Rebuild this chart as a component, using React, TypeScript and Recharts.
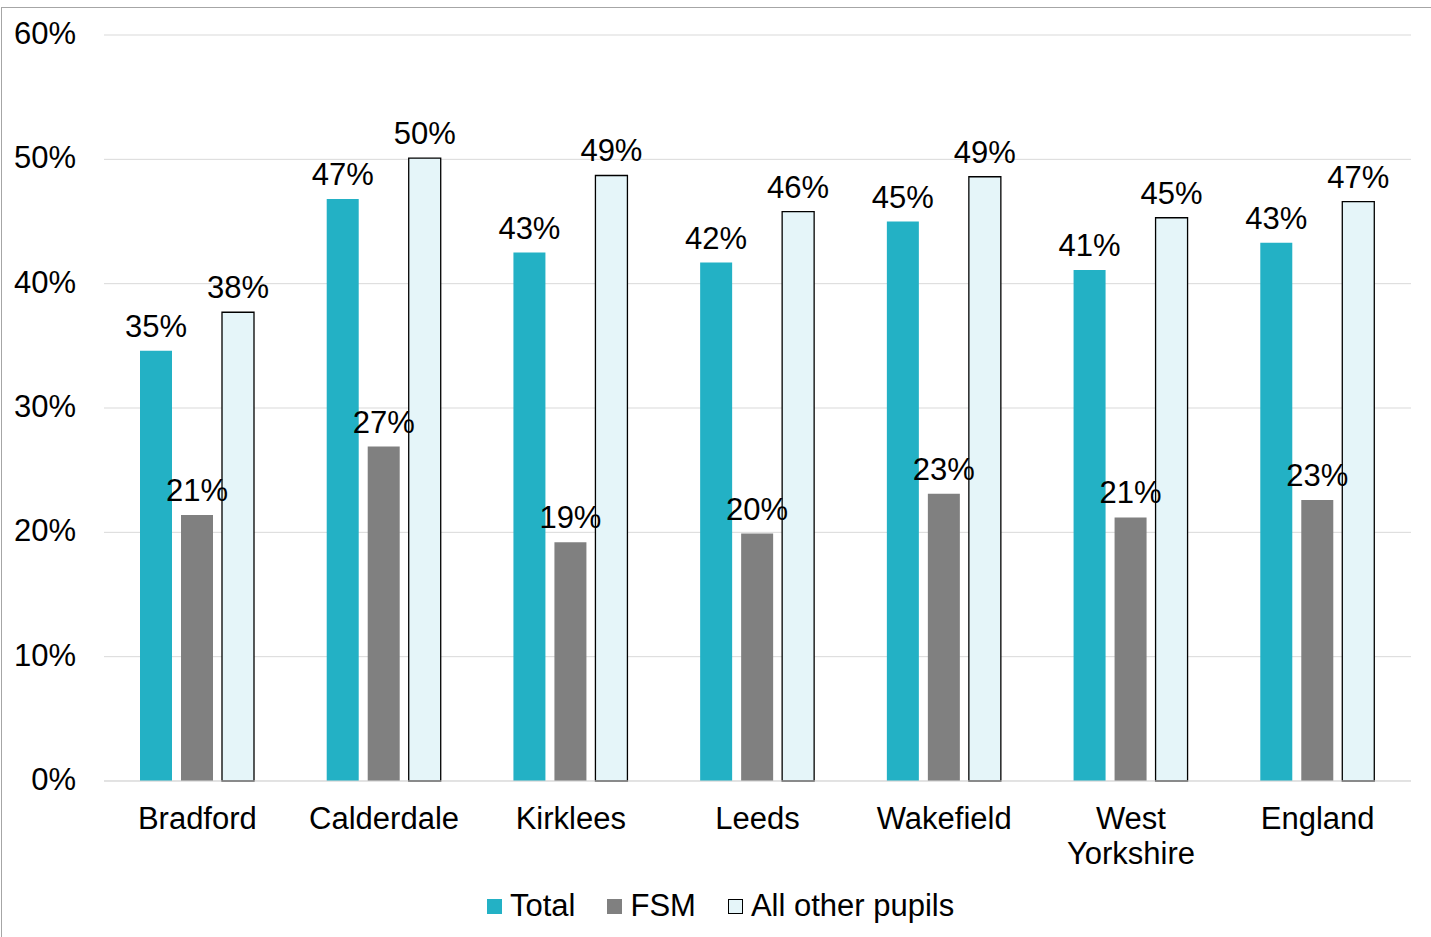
import React from 'react';
import { BarChart, Bar, XAxis, YAxis, CartesianGrid, LabelList } from 'recharts';

const areas = ['Bradford', 'Calderdale', 'Kirklees', 'Leeds', 'Wakefield', 'West Yorkshire', 'England'];
const totalPct = [34.6, 46.8, 42.5, 41.7, 45.0, 41.1, 43.3];
const fsmPct = [21.4, 26.9, 19.2, 19.9, 23.1, 21.2, 22.6];
const otherPct = [37.7, 50.1, 48.7, 45.8, 48.6, 45.3, 46.6];
const yTicks = [0, 10, 20, 30, 40, 50, 60];

const data = areas.map((name, i) => ({
  name,
  total: totalPct[i],
  fsm: fsmPct[i],
  other: otherPct[i],
}));

const FONT = '"Liberation Sans", Arial, sans-serif';
const FS = 31;
const TEAL = '#23b1c5';
const GREY = '#808080';
const PALE = '#e5f5f9';

const pct = (v: any) => `${Math.round(Number(v))}%`;

const AreaTick = (props: any) => {
  const { x, y, payload } = props;
  const words = String(payload.value).split(' ');
  return (
    <text x={x} y={y} textAnchor="middle" fill="#000" fontSize={FS} fontFamily={FONT}>
      {words.map((w, i) => (
        <tspan key={w} x={x} dy={i === 0 ? 40 : 35}>{w}</tspan>
      ))}
    </text>
  );
};

const legendItems = [
  { label: 'Total', fill: TEAL, stroke: 'none' },
  { label: 'FSM', fill: GREY, stroke: 'none' },
  { label: 'All other pupils', fill: PALE, stroke: '#000' },
];

export default function App() {
  return (
    <div style={{ position: 'absolute', left: 0, top: 0, width: 1431, height: 937, background: '#fff', overflow: 'hidden', fontFamily: FONT }}>
      <div style={{ position: 'absolute', left: 1, top: 7, width: 1460, height: 960, border: '1px solid #a6a6a6', boxSizing: 'border-box' }} />
      <div style={{ position: 'absolute', left: 0, top: 0 }}>
        <BarChart
          width={1431}
          height={937}
          data={data}
          margin={{ top: 35, right: 20, left: 1, bottom: 0 }}
          barSize={32}
          barGap={9}
        >
          <CartesianGrid vertical={false} stroke="#d9d9d9" />
          <XAxis
            dataKey="name"
            height={156}
            axisLine={{ stroke: '#d9d9d9' }}
            tickLine={false}
            tick={<AreaTick />}
            interval={0}
          />
          <YAxis
            width={103}
            domain={[0, 60]}
            ticks={yTicks}
            tickFormatter={(v) => `${v}%`}
            axisLine={false}
            tickLine={false}
            tickSize={0}
            tickMargin={28}
            tick={{ fill: '#000', fontSize: FS, fontFamily: FONT, dy: -2 }}
          />
          <Bar dataKey="total" fill={TEAL} isAnimationActive={false}>
            <LabelList dataKey="total" position="top" offset={14} formatter={pct} fill="#000" fontSize={FS} fontFamily={FONT} />
          </Bar>
          <Bar dataKey="fsm" fill={GREY} isAnimationActive={false}>
            <LabelList dataKey="fsm" position="top" offset={14} formatter={pct} fill="#000" fontSize={FS} fontFamily={FONT} />
          </Bar>
          <Bar dataKey="other" fill={PALE} stroke="#000" strokeWidth={1.3} isAnimationActive={false}>
            <LabelList dataKey="other" position="top" offset={14} formatter={pct} fill="#000" fontSize={FS} fontFamily={FONT} />
          </Bar>
        </BarChart>
      </div>
      <div style={{ position: 'absolute', left: 487, top: 888, display: 'flex', alignItems: 'center', fontSize: FS, color: '#000', lineHeight: '36px' }}>
        {legendItems.map((it) => (
          <div key={it.label} style={{ display: 'flex', alignItems: 'center', marginRight: 32 }}>
            <span style={{ display: 'inline-block', width: it.stroke === 'none' ? 15 : 13, height: it.stroke === 'none' ? 15 : 13, background: it.fill, border: it.stroke === 'none' ? 'none' : `1px solid ${it.stroke}`, marginRight: 8 }} />
            <span>{it.label}</span>
          </div>
        ))}
      </div>
    </div>
  );
}
